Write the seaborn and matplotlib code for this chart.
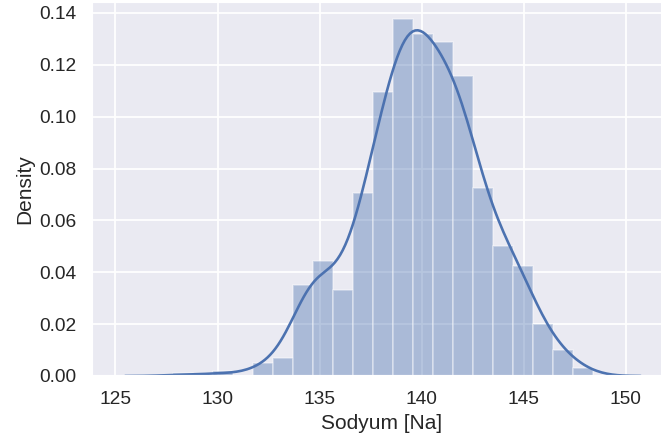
import numpy as np
import pandas as pd
import matplotlib
matplotlib.use("Agg")
import matplotlib.pyplot as plt
import seaborn as sns

# Representative sodium value of each histogram bin and the count
sodium_values = [128.3, 129.3, 130.2, 131.2, 132.2, 133.2, 134.2, 135.1, 136.1, 137.1,
                 138.1, 139.1, 140.0, 141.0, 142.0, 143.0, 144.0, 144.9, 145.9, 146.9, 147.9]
counts = [1, 0, 2, 0, 5, 7, 35, 44, 33, 70, 109, 137, 131, 128, 115, 72, 50, 42, 20, 10, 3]
n_bins = 21
bin_range = (127.8, 148.4)

df = pd.DataFrame({"Sodyum [Na]": np.repeat(sodium_values, counts)})

scale = 1.25
ctx = sns.plotting_context("notebook")
sns.set_theme(style="darkgrid", rc={k: v * scale for k, v in ctx.items()})
plt.rcParams["font.family"] = ["Liberation Sans", "DejaVu Sans"]
color = sns.color_palette()[0]

fig = plt.figure(figsize=(6.61, 4.41), dpi=100)
ax = fig.add_axes([92 / 661, 65 / 441, (671.5 - 92) / 661, 374 / 441])

sns.histplot(data=df, x="Sodyum [Na]", bins=n_bins, binrange=bin_range, stat="density",
             color=color, alpha=0.4, edgecolor=(1, 1, 1, 0.4), linewidth=1.2, ax=ax)
sns.kdeplot(data=df, x="Sodyum [Na]", color=color, linewidth=1.5 * scale, cut=3,
            bw_adjust=1.25, ax=ax)

ax.set_xlim(123.85, 152.24)
ax.set_ylim(0, 0.1442)
ax.set_xticks([125, 130, 135, 140, 145, 150])
ax.set_yticks([0.0, 0.02, 0.04, 0.06, 0.08, 0.10, 0.12, 0.14])
ax.set_ylabel("Density")
ax.set_xlabel("Sodyum [Na]")

fig.savefig("out.png", dpi=100)
